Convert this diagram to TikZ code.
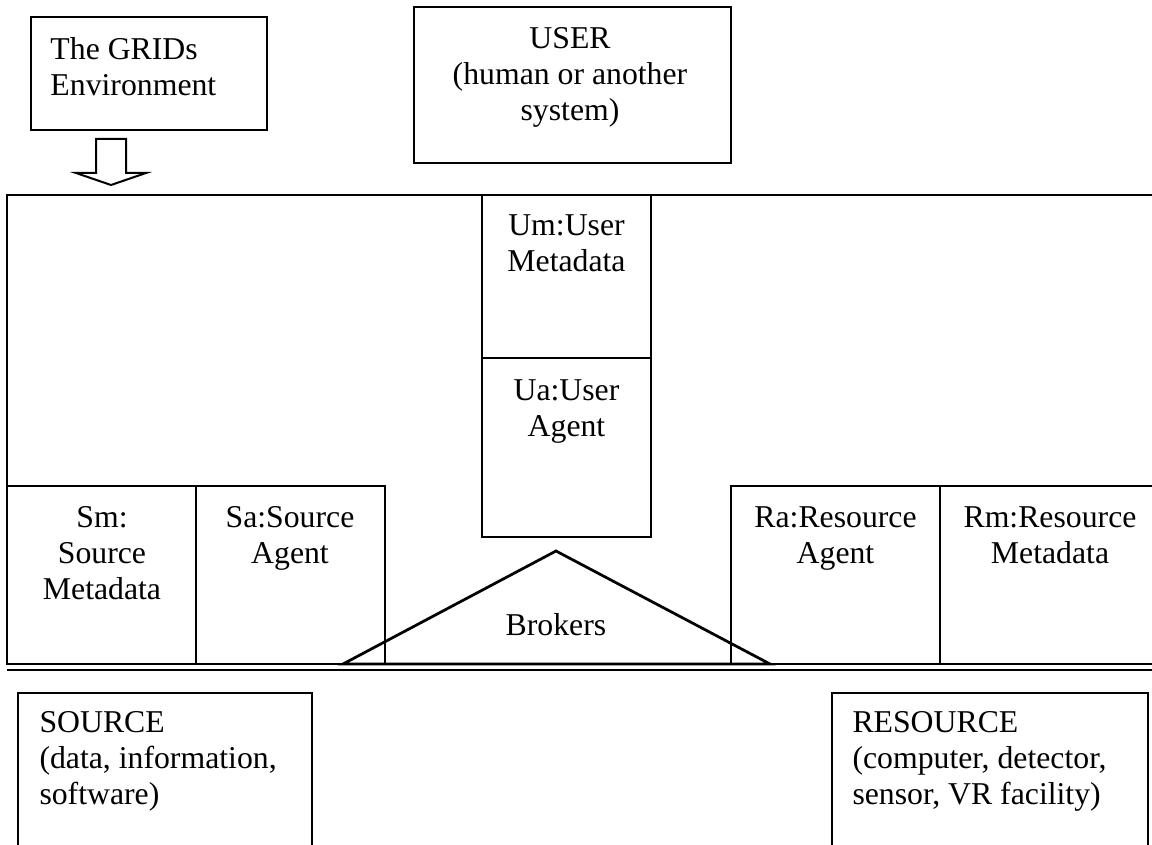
\documentclass[tikz,border=0pt]{standalone}
\usepackage{fontspec}
\setmainfont{Liberation Serif}
\usetikzlibrary{calc}

\begin{document}
\begin{tikzpicture}[x=0.4pt,y=-0.4pt,
  frame/.style={line width=1.1pt,color=black},
  thinframe/.style={line width=0.8pt,color=black},
  txt/.style={inner sep=0pt,font=\fontsize{12.7}{14.4}\selectfont,align=center,anchor=north},
  txtl/.style={txt,align=left,anchor=north west}]
\useasboundingbox (0,0) rectangle (1152,845);

% outer boxes
\draw[frame] (31,17) rectangle (267,130);
\node[txtl] (grids) at (50,37) {The GRIDs\\Environment};

\draw[frame] (414,7) rectangle (731,163);
\node[txt] (user) at (570,27) {USER\\(human or another\\system)};

\draw[thinframe] (96,139) -- (126,139) -- (126,173) -- (146,173) -- (111,185) -- (76,173) -- (96,173) -- cycle;

% environment
\coordinate (E1) at (7,195);
\coordinate (E2) at (1165,195);
\coordinate (E3) at (7,664);
\coordinate (E4) at (1165,664);
\draw[frame] (E2) -- (E1) -- (E3) -- (E4);
\draw[frame] ($(E3)+(0,6)$) -- ($(E4)+(0,6)$);

% user side
\draw[frame] (482,195) rectangle (651,358);
\draw[frame] (482,358) rectangle (651,537);
\node[txt] (Um) at (566.5,214) {Um:User\\Metadata};
\node[txt] (Ua) at (566.5,379) {Ua:User\\Agent};

% source side
\draw[frame] (7,486) rectangle (196,664);
\draw[frame] (196,486) rectangle (385,664);
\node[txt] (Sm) at (102,506) {Sm:\\Source\\Metadata};
\node[txt] (Sa) at (290,506) {Sa:Source\\Agent};

% resource side
\draw[frame] (731,486) rectangle (940,664);
\draw[frame] (940,486) -- (1165,486);
\draw[frame] (940,486) -- (940,664);
\node[txt] (Ra) at (835.5,506) {Ra:Resource\\Agent};
\node[txt] (Rm) at (1050,506) {Rm:Resource\\Metadata};

% brokers
\coordinate (B1) at (343,664);
\coordinate (B2) at (556,551);
\coordinate (B3) at (770,664);
\draw[frame] (B1) -- (B2) -- (B3) -- cycle;
\node[txt] (Br) at (556,613) {Brokers};

% bottom boxes
\draw[frame] (18,860) -- (18,693) -- (312,693) -- (312,860);
\node[txtl] (src) at (39,711) {SOURCE\\(data, information,\\software)};
\draw[frame] (832,860) -- (832,693) -- (1148,693) -- (1148,860);
\node[txtl] (res) at (852,711) {RESOURCE\\(computer, detector,\\sensor, VR facility)};

\end{tikzpicture}
\end{document}
